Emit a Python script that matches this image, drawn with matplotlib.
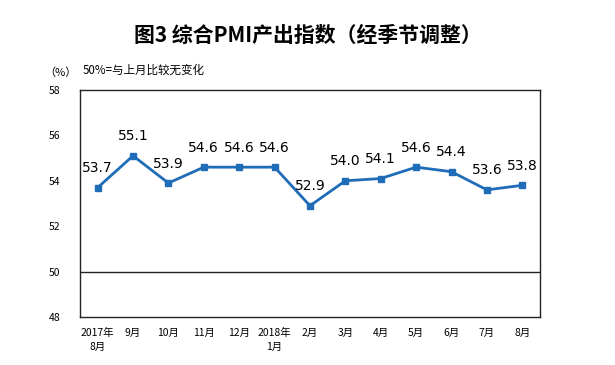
import matplotlib.pyplot as plt

plt.rcParams['font.family'] = ['Noto Sans CJK SC', 'DejaVu Sans']

# 数据
months = ['2017年\n8月', '9月', '10月', '11月', '12月', '2018年\n1月', '2月',
          '3月', '4月', '5月', '6月', '7月', '8月']
pmi = [53.7, 55.1, 53.9, 54.6, 54.6, 54.6, 52.9, 54.0, 54.1, 54.6, 54.4, 53.6, 53.8]
y_ticks = [48, 50, 52, 54, 56, 58]

line_color = '#1F6CB8'

fig = plt.figure(figsize=(6.15, 3.65), dpi=100)
ax = fig.add_axes([0.130, 0.1315, 0.748, 0.622])

x = list(range(len(months)))
ax.plot(x, pmi, color=line_color, linewidth=2, marker='s', markersize=4)

# 数值标签
for xi, v in zip(x, pmi):
    ax.annotate(f'{v:.1f}', (xi, v), xytext=(0, 9), textcoords='offset points',
                ha='center', va='bottom', fontsize=10, family=['DejaVu Sans'])

# 50 参考线
ax.axhline(50, color='#222222', linewidth=1)

ax.set_xlim(-0.5, len(months) - 0.5)
ax.set_ylim(48, 58)
ax.set_yticks(y_ticks)
ax.set_yticklabels([str(t) for t in y_ticks], fontsize=7.5)
ax.set_xticks(x)
ax.set_xticklabels(months, fontsize=7.5, linespacing=1.5, va='top')
ax.tick_params(axis='both', length=0, pad=8)
ax.tick_params(axis='y', pad=14)
for s in ax.spines.values():
    s.set_color('#222222')
    s.set_linewidth(1)

fig.text(0.5, 0.903, '图3 综合PMI产出指数（经季节调整）', ha='center', va='center',
         fontsize=15, fontweight='bold')
fig.text(0.098, 0.802, '（%）', ha='center', va='center', fontsize=8)
fig.text(0.135, 0.808, '50%=与上月比较无变化', ha='left', va='center', fontsize=8.3)

plt.savefig('out.png', dpi=100)
plt.close()
